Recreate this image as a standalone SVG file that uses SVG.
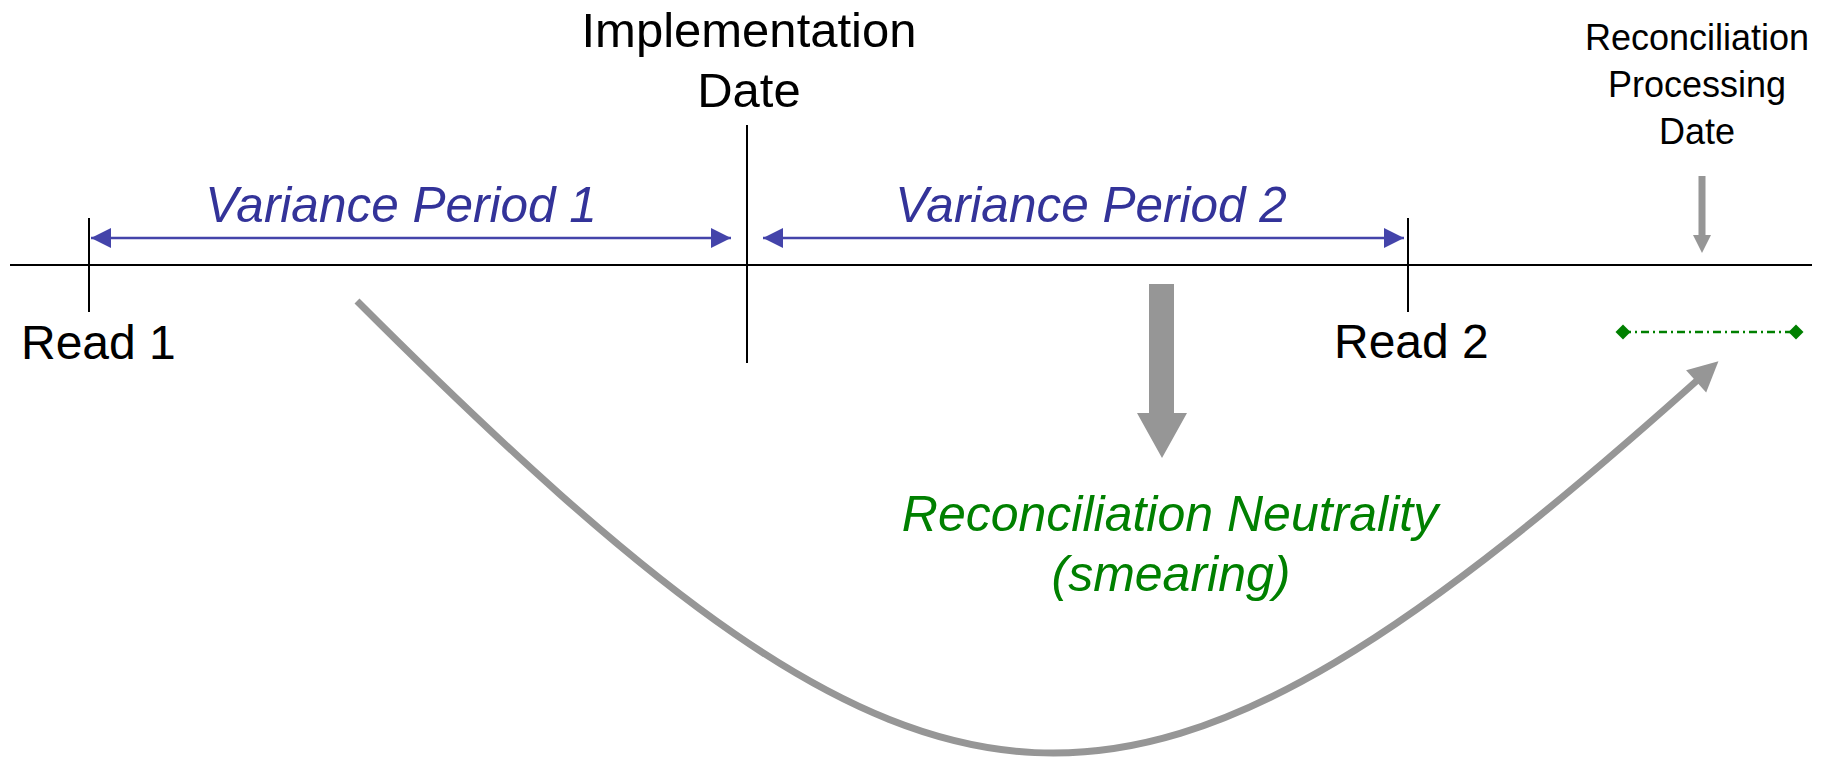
<svg xmlns="http://www.w3.org/2000/svg" width="1836" height="757" viewBox="0 0 1836 757">
<style>
  text { font-family: "Liberation Sans", Arial, sans-serif; }
  .blk { fill: #000000; font-size: 48px; }
  .imp { fill: #000000; font-size: 49px; }
  .small { fill: #000000; font-size: 36px; }
  .blue { fill: #333399; font-size: 49.5px; font-style: italic; }
  .green { fill: #008000; font-size: 50px; font-style: italic; }
  .axis { stroke: #000000; stroke-width: 2; fill: none; }
  .span { stroke: #4444AA; stroke-width: 2.5; fill: none; }
  .gray { fill: #969696; }
</style>
<defs>
  <marker id="bhead" markerUnits="userSpaceOnUse" markerWidth="20" markerHeight="20" viewBox="0 -8 16 16" refX="16" refY="0" orient="auto-start-reverse" overflow="visible">
    <path d="M0,-8 L16,0 L0,8 z" fill="#4444AA"/>
  </marker>
  <marker id="ghead" markerUnits="userSpaceOnUse" markerWidth="30" markerHeight="30" viewBox="0 -12 24 24" refX="16" refY="0" orient="auto" overflow="visible">
    <path d="M0,-12 L24,0 L0,12 z" fill="#969696"/>
  </marker>
</defs>

<g id="timeline">
  <line class="axis" x1="10" y1="265" x2="1812" y2="265"/>
</g>

<g id="read1">
  <line class="axis" x1="89" y1="218" x2="89" y2="312"/>
  <text class="blk" x="21" y="359">Read 1</text>
</g>

<g id="implementation">
  <line class="axis" x1="747" y1="125" x2="747" y2="363"/>
  <text class="imp" x="749" y="47" text-anchor="middle">Implementation</text>
  <text class="imp" x="749" y="107" text-anchor="middle">Date</text>
</g>

<g id="read2">
  <line class="axis" x1="1408" y1="218" x2="1408" y2="312"/>
  <text class="blk" x="1334" y="358">Read 2</text>
</g>

<g id="reconciliation-date">
  <text class="small" x="1697" y="50" text-anchor="middle">Reconciliation</text>
  <text class="small" x="1697" y="97" text-anchor="middle">Processing</text>
  <text class="small" x="1697" y="144" text-anchor="middle">Date</text>
  <rect class="gray" x="1698.5" y="176" width="7" height="60"/>
  <polygon class="gray" points="1693,235 1711,235 1702,253"/>
</g>

<g id="variance1">
  <text class="blue" x="401" y="222" text-anchor="middle">Variance Period 1</text>
</g>

<g id="variance2">
  <text class="blue" x="1091" y="222" text-anchor="middle">Variance Period 2</text>
</g>

<g id="neutrality">
  <polygon class="gray" points="1149,284 1174,284 1174,413 1187,413 1162,458 1137,413 1149,413"/>
  <text class="green" x="1170" y="531" text-anchor="middle">Reconciliation Neutrality</text>
  <text class="green" x="1171" y="591" text-anchor="middle">(smearing)</text>
</g>

<g id="smear-range">
  <line x1="1623" y1="332" x2="1796" y2="332" stroke="#008000" stroke-width="2.5" stroke-dasharray="8 4 2 4"/>
  <polygon points="1623,324.5 1630.5,332 1623,339.5 1615.5,332" fill="#008000"/>
  <polygon points="1796,324.5 1803.5,332 1796,339.5 1788.5,332" fill="#008000"/>
</g>

<g id="connectors">
  <line class="span" x1="91" y1="238" x2="731" y2="238" marker-start="url(#bhead)" marker-end="url(#bhead)"/>
  <line class="span" x1="763" y1="238" x2="1404" y2="238" marker-start="url(#bhead)" marker-end="url(#bhead)"/>
  <path d="M357,301 C945,889 1125,895 1711,368" fill="none" stroke="#969696" stroke-width="7" marker-end="url(#ghead)"/>
</g>
</svg>
